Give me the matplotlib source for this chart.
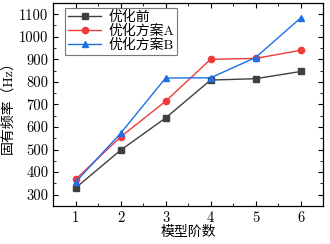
import matplotlib.pyplot as plt
from matplotlib.ticker import MultipleLocator

plt.rcParams['font.family'] = ['cmr10', 'Noto Sans CJK SC']
plt.rcParams['axes.unicode_minus'] = False

modes = [1, 2, 3, 4, 5, 6]
before = [330, 497, 640, 808, 814, 846]
plan_a = [368, 556, 714, 900, 904, 940]
plan_b = [356, 572, 817, 818, 908, 1083]

fig = plt.figure(figsize=(3.3, 2.44), dpi=100)
ax = fig.add_axes([0.161, 0.156, 0.818, 0.832])

ax.plot(modes, before, color='#404040', marker='s', ms=4, lw=1.0, label='优化前')
ax.plot(modes, plan_a, color='#ee3b3b', marker='o', ms=4.5, lw=1.0, label='优化方案A')
ax.plot(modes, plan_b, color='#1e6fe6', marker='^', ms=4.5, lw=1.0, label='优化方案B')

ax.set_xlim(0.5, 6.5)
ax.set_ylim(250, 1150)
ax.set_xticks(modes)
ax.yaxis.set_major_locator(MultipleLocator(100))
ax.xaxis.set_minor_locator(MultipleLocator(0.5))
ax.yaxis.set_minor_locator(MultipleLocator(50))
ax.tick_params(which='both', direction='in', top=True, right=True, labeltop=False, labelright=False)
ax.tick_params(which='major', length=3.5, labelsize=10.5)
ax.tick_params(which='minor', length=2)
for s in ax.spines.values():
    s.set_linewidth(0.9)

ax.set_xlabel('模型阶数', fontsize=10, labelpad=1)
ax.set_ylabel('固有频率（Hz）', fontsize=10, labelpad=3)

leg = ax.legend(loc='upper left', bbox_to_anchor=(0.045, 0.975), prop={'size': 10},
                frameon=True, fancybox=False, edgecolor='#555555', borderpad=0.2,
                labelspacing=0.05, handlelength=2.4, handletextpad=0.5, borderaxespad=0)
leg.get_frame().set_linewidth(0.8)

fig.savefig('out.png', dpi=100)
